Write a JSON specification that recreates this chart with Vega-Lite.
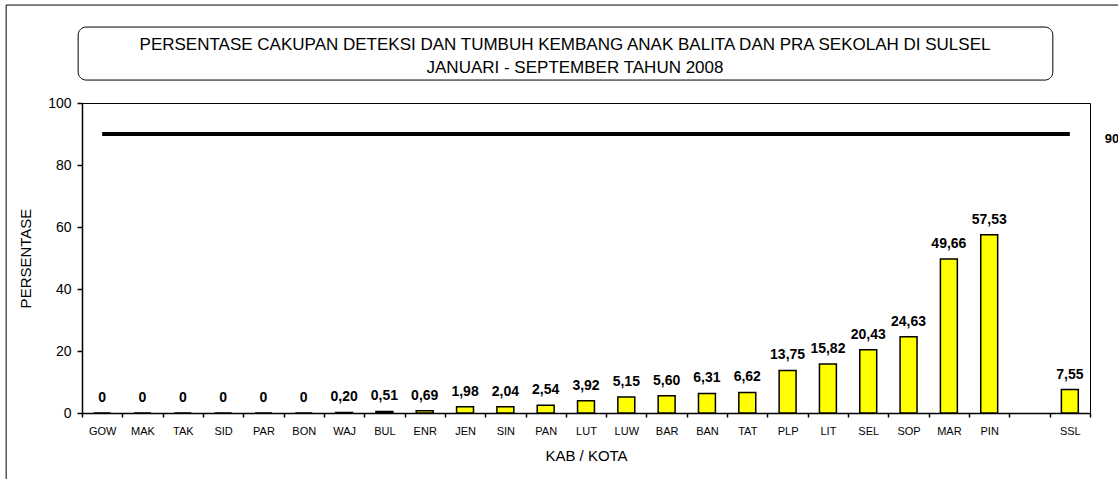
{
  "$schema": "https://vega.github.io/schema/vega-lite/v6.json",
  "autosize": "none",
  "width": 1008,
  "height": 310,
  "padding": {"left": 82, "top": 103, "right": 28, "bottom": 66},
  "background": "white",
  "config": {
    "font": "Liberation Sans",
    "view": {"stroke": "black", "strokeWidth": 1},
    "axis": {"domainColor": "black", "tickColor": "black", "labelColor": "black", "titleColor": "black", "grid": false, "labelFont": "Liberation Sans", "titleFont": "Liberation Sans"}
  },
  "layer": [
    {
      "data": {"values": [
        {"kab": "GOW", "nilai": 0, "label": "0", "target": 90},
        {"kab": "MAK", "nilai": 0, "label": "0", "target": 90},
        {"kab": "TAK", "nilai": 0, "label": "0", "target": 90},
        {"kab": "SID", "nilai": 0, "label": "0", "target": 90},
        {"kab": "PAR", "nilai": 0, "label": "0", "target": 90},
        {"kab": "BON", "nilai": 0, "label": "0", "target": 90},
        {"kab": "WAJ", "nilai": 0.20, "label": "0,20", "target": 90},
        {"kab": "BUL", "nilai": 0.51, "label": "0,51", "target": 90},
        {"kab": "ENR", "nilai": 0.69, "label": "0,69", "target": 90},
        {"kab": "JEN", "nilai": 1.98, "label": "1,98", "target": 90},
        {"kab": "SIN", "nilai": 2.04, "label": "2,04", "target": 90},
        {"kab": "PAN", "nilai": 2.54, "label": "2,54", "target": 90},
        {"kab": "LUT", "nilai": 3.92, "label": "3,92", "target": 90},
        {"kab": "LUW", "nilai": 5.15, "label": "5,15", "target": 90},
        {"kab": "BAR", "nilai": 5.60, "label": "5,60", "target": 90},
        {"kab": "BAN", "nilai": 6.31, "label": "6,31", "target": 90},
        {"kab": "TAT", "nilai": 6.62, "label": "6,62", "target": 90},
        {"kab": "PLP", "nilai": 13.75, "label": "13,75", "target": 90},
        {"kab": "LIT", "nilai": 15.82, "label": "15,82", "target": 90},
        {"kab": "SEL", "nilai": 20.43, "label": "20,43", "target": 90},
        {"kab": "SOP", "nilai": 24.63, "label": "24,63", "target": 90},
        {"kab": "MAR", "nilai": 49.66, "label": "49,66", "target": 90},
        {"kab": "PIN", "nilai": 57.53, "label": "57,53", "target": 90},
        {"kab": " ", "nilai": null, "label": null, "target": 90},
        {"kab": "SSL", "nilai": 7.55, "label": "7,55", "target": 90}
      ]},
      "encoding": {
        "x": {
          "field": "kab", "type": "nominal",
          "scale": {"domain": ["GOW", "MAK", "TAK", "SID", "PAR", "BON", "WAJ", "BUL", "ENR", "JEN", "SIN", "PAN", "LUT", "LUW", "BAR", "BAN", "TAT", "PLP", "LIT", "SEL", "SOP", "MAR", "PIN", " ", "SSL"], "paddingInner": 0, "paddingOuter": 0},
          "axis": {"title": "KAB / KOTA", "titleFontSize": 15, "titleFontWeight": "normal", "titlePadding": 12, "labelAngle": 0, "labelFontSize": 11, "labelPadding": 8, "tickBand": "extent", "tickSize": 4, "tickWidth": 1.5, "domainWidth": 1.5}
        }
      },
      "layer": [
        {
          "mark": {"type": "bar", "color": "#FFFF00", "stroke": "black", "strokeWidth": 1.5, "width": {"band": 0.42}},
          "encoding": {
            "y": {
              "field": "nilai", "type": "quantitative",
              "scale": {"domain": [0, 100], "nice": false, "zero": true},
              "axis": {"title": "PERSENTASE", "titleFontSize": 15, "titleFontWeight": "normal", "titlePadding": 14, "values": [0, 20, 40, 60, 80, 100], "labelFontSize": 14, "labelPadding": 6, "tickSize": 5, "tickWidth": 1.5, "domainWidth": 1.5}
            }
          }
        },
        {
          "mark": {"type": "line", "color": "black", "strokeWidth": 4},
          "encoding": {
            "y": {"field": "target", "type": "quantitative"}
          }
        },
        {
          "mark": {"type": "text", "fontSize": 14, "fontWeight": "bold", "baseline": "bottom", "dy": -8},
          "encoding": {
            "y": {"field": "nilai", "type": "quantitative"},
            "text": {"field": "label"}
          }
        },
        {
          "transform": [{"filter": "datum.kab == 'SSL'"}],
          "mark": {"type": "text", "fontSize": 13, "fontWeight": "bold", "align": "left", "baseline": "middle", "dx": 35, "dy": 5, "clip": false},
          "encoding": {
            "y": {"field": "target", "type": "quantitative"},
            "text": {"field": "target"}
          }
        }
      ]
    },
    {
      "data": {"values": [{"y1": 131.6, "y2": -40, "a": "GOW", "b": "SSL"}]},
      "mark": {"type": "rect", "fill": null, "stroke": "black", "strokeWidth": 1, "xOffset": -96, "x2Offset": 100, "clip": false},
      "encoding": {
        "x": {"field": "a", "type": "nominal"},
        "x2": {"field": "b"},
        "y": {"field": "y1", "type": "quantitative"},
        "y2": {"field": "y2"}
      }
    },
    {
      "data": {"values": [{"y1": 124.5, "y2": 107.4, "ym": 115, "a": "GOW", "b": "SSL", "t": "PERSENTASE CAKUPAN DETEKSI DAN TUMBUH KEMBANG ANAK BALITA DAN PRA SEKOLAH DI SULSEL", "t2": "JANUARI - SEPTEMBER TAHUN 2008"}]},
      "layer": [
        {
          "mark": {"type": "rect", "fill": null, "stroke": "black", "strokeWidth": 1, "cornerRadius": 8, "xOffset": -24, "x2Offset": -17, "clip": false},
          "encoding": {
            "x": {"field": "a", "type": "nominal"},
            "x2": {"field": "b"},
            "y": {"field": "y1", "type": "quantitative"},
            "y2": {"field": "y2"}
          }
        },
        {
          "mark": {"type": "text", "fontSize": 17, "fontWeight": "normal", "baseline": "middle", "align": "center", "dx": -21, "dy": -11.5, "clip": false},
          "encoding": {
            "y": {"field": "ym", "type": "quantitative"},
            "text": {"field": "t"}
          }
        },
        {
          "mark": {"type": "text", "fontSize": 17, "fontWeight": "normal", "baseline": "middle", "align": "center", "dx": -11, "dy": 11.5, "clip": false},
          "encoding": {
            "y": {"field": "ym", "type": "quantitative"},
            "text": {"field": "t2"}
          }
        }
      ]
    }
  ]
}
